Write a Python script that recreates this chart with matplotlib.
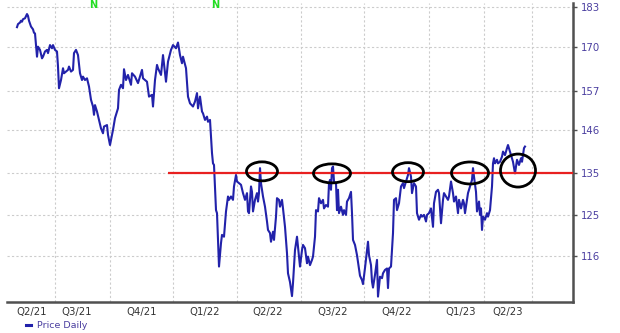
import matplotlib
matplotlib.use("Agg")
import matplotlib.pyplot as plt
import matplotlib.transforms as mtransforms
from matplotlib.patches import Ellipse
from matplotlib.lines import Line2D
from matplotlib.ticker import FixedLocator, NullLocator, NullFormatter

# ---- data (trading-day index, daily close) ----
day = [0, 1, 3, 4, 5, 6, 8, 10, 11, 12,
       14, 16, 17, 18, 20, 21, 23, 25, 26, 28,
       30, 31, 33, 35, 36, 38, 40, 41, 42, 44,
       46, 47, 49, 51, 52, 54, 56, 57, 59, 61,
       63, 65, 66, 68, 70, 72, 74, 76, 77, 78,
       80, 82, 84, 86, 87, 90, 91, 93, 96, 98,
       101, 102, 104, 106, 107, 109, 111, 114, 115, 118,
       121, 125, 126, 130, 132, 135, 136, 138, 140, 141,
       144, 146, 148, 149, 151, 154, 156, 159, 161, 163,
       165, 166, 169, 171, 173, 176, 178, 180, 181, 183,
       185, 186, 188, 190, 191, 193, 195, 196, 197, 199,
       200, 202, 204, 205, 207, 209, 211, 212, 214, 216,
       217, 219, 220, 222, 224, 226, 228, 230, 231, 232,
       234, 235, 236, 238, 240, 241, 242, 243, 244, 246,
       248, 250, 251, 253, 254, 256, 257, 259, 260, 262,
       263, 265, 266, 268, 270, 271, 273, 275, 276, 278,
       280, 281, 283, 285, 286, 288, 290, 291, 293, 295,
       296, 298, 299, 301, 302, 304, 306, 307, 309, 311,
       312, 313, 314, 315, 316, 317, 319, 320, 321, 322,
       324, 326, 327, 329, 330, 332, 334, 335, 336, 338,
       340, 341, 343, 345, 346, 348, 350, 351, 352, 354,
       355, 356, 358, 360, 361, 363, 365, 366, 368, 370,
       371, 372, 374, 376, 377, 379, 380, 382, 384, 386,
       387, 389, 391, 392, 394, 395, 397, 399, 400, 402,
       404, 405, 407, 409, 410, 412, 414, 416, 417, 419,
       421, 422, 424, 426, 427, 429, 431, 432, 434, 436,
       437, 439, 441, 442, 444, 446, 447, 448, 450, 451,
       453, 455, 456, 457, 459, 460, 462, 463, 464, 465,
       466, 468, 470, 471, 473, 475, 476, 477, 478, 480,
       481, 483, 485, 486, 488, 490, 491, 493, 495, 496,
       498, 499, 500, 502, 504, 505, 507, 508]

price = [176.4, 177.4, 177.9, 178.5, 178.2, 179.0, 179.3, 180.7, 180.1, 178.5,
         176.6, 175.7, 174.6, 174.4, 167.1, 170.2, 169.2, 166.6, 167.1, 168.7,
         169.2, 168.2, 170.7, 169.7, 170.7, 169.2, 168.7, 164.1, 157.7, 160.1,
         163.6, 162.1, 162.6, 163.1, 164.1, 162.6, 163.1, 168.2, 169.2, 167.6,
         162.1, 160.1, 161.1, 160.1, 160.6, 158.2, 154.4, 152.5, 150.2, 152.9,
         151.1, 148.8, 146.5, 145.2, 147.0, 147.4, 144.8, 142.1, 146.1, 149.3,
         152.0, 157.2, 158.7, 157.7, 163.3, 160.1, 161.6, 158.7, 162.1, 161.1,
         159.2, 163.1, 160.6, 159.6, 155.3, 155.8, 152.5, 160.1, 164.6, 163.6,
         161.6, 167.6, 162.1, 159.6, 165.6, 169.2, 170.7, 169.7, 171.5, 167.6,
         165.1, 167.1, 163.6, 155.3, 153.4, 152.5, 153.9, 156.3, 152.0, 155.3,
         151.1, 150.6, 148.8, 149.7, 148.3, 148.8, 140.0, 137.4, 137.0, 126.1,
         125.4, 113.7, 118.7, 120.5, 120.1, 125.8, 129.3, 128.5, 129.3, 128.5,
         131.7, 134.5, 132.9, 132.5, 132.1, 130.1, 128.5, 130.1, 125.8, 125.4,
         131.7, 130.4, 125.8, 128.5, 130.1, 128.1, 130.1, 136.2, 132.5, 129.3,
         126.9, 123.5, 121.6, 120.9, 119.0, 121.2, 119.4, 124.6, 128.9, 128.5,
         126.9, 128.5, 126.5, 122.3, 116.5, 112.3, 110.5, 107.7, 110.3, 117.2,
         120.1, 117.9, 113.7, 117.2, 118.3, 117.6, 114.4, 115.8, 114.0, 115.1,
         115.8, 120.1, 126.1, 125.8, 128.9, 127.7, 128.5, 126.5, 127.3, 126.9,
         132.5, 133.3, 130.9, 136.2, 136.6, 132.9, 132.5, 126.1, 130.9, 125.4,
         126.9, 125.0, 126.1, 125.0, 128.1, 128.9, 130.4, 125.4, 119.4, 118.3,
         116.1, 114.7, 111.8, 110.9, 110.1, 113.4, 117.2, 119.0, 116.1, 114.0,
         110.6, 109.4, 112.0, 115.1, 107.6, 111.6, 111.3, 112.3, 113.0, 113.3,
         109.3, 113.3, 113.7, 120.9, 128.5, 128.9, 126.1, 127.7, 131.7, 132.5,
         131.3, 132.9, 134.5, 136.2, 134.1, 130.1, 132.5, 131.7, 125.4, 123.9,
         125.0, 124.6, 125.0, 123.5, 125.0, 125.4, 126.5, 122.3, 127.7, 130.4,
         130.9, 130.1, 123.1, 128.5, 130.1, 129.3, 128.5, 129.3, 132.9, 130.1,
         128.1, 129.3, 125.4, 128.5, 126.5, 128.5, 127.7, 125.4, 128.5, 130.1,
         131.7, 133.3, 136.2, 134.1, 130.4, 125.8, 128.1, 125.0, 126.5, 121.6,
         124.6, 123.9, 125.4, 124.6, 126.1, 131.7, 137.4, 138.7, 137.4, 138.3,
         137.4, 137.8, 139.1, 140.4, 139.5, 141.3, 142.1, 140.4, 138.7, 137.8,
         134.9, 136.6, 138.3, 137.0, 138.7, 137.8, 141.3, 141.7]

price_ticks = [116, 125, 135, 146, 157, 170, 183]
quarter_lines = [38, 93, 156, 220, 284, 347, 412, 467, 515]
quarter_label_pos = [15, 60, 125, 188, 251, 316, 380, 444, 491]
quarter_labels = ["Q2/21", "Q3/21", "Q4/21", "Q1/22", "Q2/22",
                  "Q3/22", "Q4/22", "Q1/23", "Q2/23"]
resistance_level = 135
resistance_start = 151
circled_days = [245, 315, 391, 453, 501]
circled_prices = [135.4, 134.9, 135.2, 135.0, 135.6]
signal_days = [76, 198]
signal_text = "N"
series_label = "Price Daily"

# ---- style ----
x_min, x_max = -10, 556
y_min, y_max = 106.6, 184.4
ellipse_w_px = [31, 37, 31, 37, 35]
ellipse_h_px = [19, 19, 19, 22, 33]
line_color = "#2222aa"
axis_color = "#505050"
tick_label_color = "#4b3fa0"

fig = plt.figure(figsize=(6.2, 3.33), dpi=100)
ax = fig.add_axes([7 / 620, 1 - 301.7 / 333, (573 - 7) / 620, (301.7 - 3) / 333])
ax.set_yscale("log")

ax.plot(day, price, color=line_color, lw=1.5, label=series_label, zorder=3)
ax.hlines(resistance_level, resistance_start, x_max, color="#e82020", lw=1.6, zorder=4)

for d, p, w, h in zip(circled_days, circled_prices, ellipse_w_px, ellipse_h_px):
    trans = fig.dpi_scale_trans + mtransforms.ScaledTranslation(d, p, ax.transData)
    ax.add_patch(Ellipse((0, 0), w / 100, h / 100, transform=trans, fill=False,
                         ec="black", lw=2.0, zorder=5, clip_on=False))

for d in signal_days:
    ax.text(d, 0.993, signal_text, transform=ax.get_xaxis_transform(), color="#22dd22",
            fontsize=7, fontweight="bold", ha="center", va="center")

# y axis on the right, log scale with custom ticks
ax.yaxis.tick_right()
ax.yaxis.set_major_locator(FixedLocator(price_ticks))
ax.yaxis.set_minor_locator(NullLocator())
ax.yaxis.set_minor_formatter(NullFormatter())
ax.set_yticklabels([str(t) for t in price_ticks])
ax.tick_params(axis="y", which="major", direction="out", length=3.1, width=1,
               color=axis_color, labelcolor=tick_label_color, labelsize=7.3, pad=2.4)

# x axis: grid at quarter lines, labels in between
ax.xaxis.set_major_locator(FixedLocator(quarter_lines))
ax.xaxis.set_major_formatter(NullFormatter())
ax.set_xticks(quarter_label_pos, quarter_labels, minor=True)
ax.tick_params(axis="x", which="both", length=0, labelsize=7.3, labelcolor="#333333", pad=4)

ax.grid(True, which="major", axis="both", color="#cccccc", lw=0.8, linestyle=(0, (2, 2)))
ax.set_axisbelow(True)

for s in ["top", "left"]:
    ax.spines[s].set_visible(False)
for s in ["right", "bottom"]:
    ax.spines[s].set_color(axis_color)
    ax.spines[s].set_linewidth(1.8)

handle = Line2D([0], [0], color=line_color, lw=2.2)
fig.legend([handle], [series_label], loc="center left", bbox_to_anchor=(0.042, 0.022),
           frameon=False, fontsize=6.8, handlelength=0.55, handletextpad=0.6,
           borderpad=0, borderaxespad=0, labelcolor=tick_label_color)

ax.set_xlim(x_min, x_max)
ax.set_ylim(y_min, y_max)

fig.savefig("out.png", dpi=100)
